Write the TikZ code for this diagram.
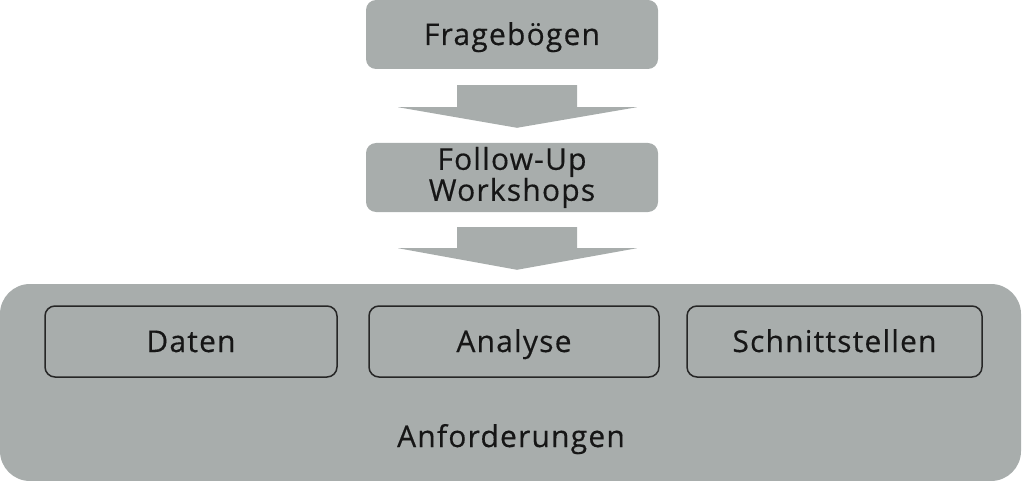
\documentclass[tikz,border=0pt]{standalone}
\usepackage{fontspec}
\setmainfont[LetterSpace=4,FakeBold=0.4]{Open Sans}
\usetikzlibrary{calc}
\definecolor{boxgray}{RGB}{168,173,172}
\definecolor{txt}{RGB}{22,22,22}
\tikzset{
  bigfont/.style={font=\fontsize{30}{27}\selectfont},
  topbox/.style={fill=boxgray, draw=none, rounded corners=10pt, minimum width=292pt, minimum height=69pt, inner sep=0pt, text=txt, bigfont, align=center},
  innerbox/.style={draw=black!85, line width=1.5pt, fill=boxgray, rounded corners=10pt, minimum height=71pt, inner sep=0pt, text=txt, bigfont, text height=21pt, text depth=0pt},
  container/.style={fill=boxgray, draw=none, rounded corners=30pt, minimum width=1021pt, minimum height=197pt, inner sep=0pt},
  blockarrow/.style={fill=boxgray, draw=none},
  lbl/.style={text=txt, bigfont, inner sep=0pt}
}
\begin{document}
\begin{tikzpicture}[x=1pt,y=-1pt]
\useasboundingbox (0,0) rectangle (1024,481);
\node[topbox, text height=21pt, text depth=0pt] (frag) at (512,34.5) {Fragebögen};
\node[topbox] (follow) at (512,177.5) {Follow-Up\\Workshops};
\node[container] (cont) at (510.5,382.5) {};
\node[innerbox, minimum width=292pt] (daten) at (191,341.5) {Daten};
\node[innerbox, minimum width=290pt] (analyse) at (514,341.5) {Analyse};
\node[innerbox, minimum width=295pt] (schnitt) at (834.5,341.5) {Schnittstellen};
\node[lbl, anchor=base] (anf) at (511,447) {Anforderungen};
\path[blockarrow] ($(frag.south)+(-55,16)$) -- ($(frag.south)+(65,16)$) -- ($(frag.south)+(65,38)$) -- ($(frag.south)+(125,38)$) -- ($(follow.north)+(5,-15)$) -- ($(frag.south)+(-114,38)$) -- ($(frag.south)+(-55,38)$) -- cycle;
\path[blockarrow] ($(follow.south)+(-55,15)$) -- ($(follow.south)+(65,15)$) -- ($(follow.south)+(65,36)$) -- ($(follow.south)+(125,36)$) -- ($(cont.north)+(6.5,-14)$) -- ($(follow.south)+(-114,36)$) -- ($(follow.south)+(-55,36)$) -- cycle;
\end{tikzpicture}
\end{document}
